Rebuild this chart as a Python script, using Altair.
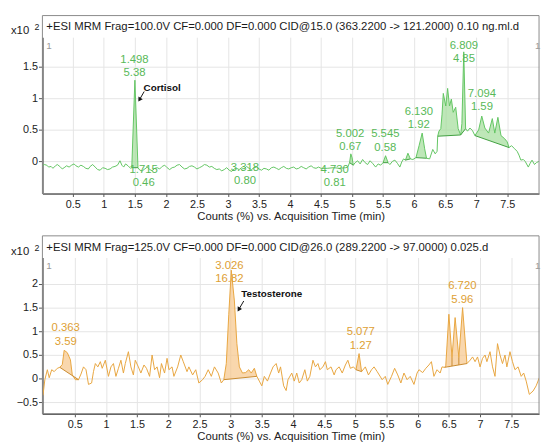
import altair as alt
import pandas as pd

# ---------------- data: top chromatogram (cortisol channel), x10^2 counts ----------------
T1 = [0.01, 0.04, 0.08, 0.11, 0.15, 0.18, 0.22, 0.25, 0.29, 0.33, 0.36, 0.40, 0.44, 0.48, 0.52, 0.55,
      0.59, 0.63, 0.67, 0.71, 0.75, 0.78, 0.82, 0.86, 0.90, 0.94, 0.98, 1.02, 1.06, 1.10, 1.14, 1.18,
      1.22, 1.26, 1.29, 1.32, 1.35, 1.39, 1.43, 1.45, 1.50, 1.55, 1.58, 1.62, 1.66, 1.70, 1.74, 1.78,
      1.82, 1.86, 1.90, 1.94, 1.98, 2.02, 2.06, 2.10, 2.14, 2.18, 2.22, 2.26, 2.30, 2.34, 2.38, 2.42,
      2.46, 2.50, 2.54, 2.58, 2.62, 2.66, 2.70, 2.74, 2.78, 2.82, 2.86, 2.90, 2.94, 2.98, 3.02, 3.06,
      3.10, 3.14, 3.18, 3.22, 3.26, 3.30, 3.34, 3.38, 3.42, 3.46, 3.50, 3.54, 3.58, 3.62, 3.66, 3.70,
      3.74, 3.78, 3.82, 3.86, 3.90, 3.94, 3.98, 4.02, 4.06, 4.10, 4.14, 4.18, 4.22, 4.26, 4.30, 4.34,
      4.38, 4.42, 4.46, 4.50, 4.60, 4.70, 4.80, 4.90, 4.93, 4.96, 4.98, 5.00, 5.02, 5.05, 5.09, 5.13,
      5.17, 5.21, 5.25, 5.29, 5.33, 5.38, 5.42, 5.46, 5.50, 5.54, 5.58, 5.61, 5.65, 5.69, 5.73, 5.77,
      5.80, 5.83, 5.86, 5.90, 5.94, 5.98, 6.03, 6.08, 6.13, 6.17, 6.20, 6.25, 6.30, 6.34, 6.37, 6.38,
      6.40, 6.43, 6.45, 6.47, 6.51, 6.54, 6.57, 6.60, 6.63, 6.67, 6.71, 6.75, 6.77, 6.80, 6.83, 6.86,
      6.90, 6.94, 6.98, 7.04, 7.09, 7.14, 7.20, 7.26, 7.30, 7.35, 7.40, 7.46, 7.50, 7.53, 7.57, 7.62,
      7.66, 7.69, 7.72, 7.76, 7.79, 7.84, 7.87, 7.90, 7.94, 7.97, 8.01]
V1 = [-0.07, -0.05, -0.06, -0.09, -0.08, -0.11, -0.07, -0.05, -0.08, -0.12, -0.10, -0.07, -0.09, -0.06, -0.04, -0.07,
      -0.09, -0.06, -0.08, -0.11, -0.12, -0.08, -0.05, -0.09, -0.13, -0.14, -0.10, -0.11, -0.13, -0.12, -0.09, -0.08,
      -0.06, 0.01, -0.06, -0.09, -0.04, -0.07, -0.11, -0.10, 1.29, -0.10, -0.14, -0.15, -0.12, -0.09, -0.13, -0.15,
      -0.11, -0.10, -0.12, -0.08, -0.06, -0.10, -0.13, -0.10, -0.09, -0.06, -0.05, -0.09, -0.12, -0.11, -0.08, -0.07,
      -0.09, -0.12, -0.10, -0.08, -0.05, -0.06, -0.09, -0.08, -0.11, -0.13, -0.12, -0.15, -0.13, -0.10, -0.14, -0.16,
      -0.12, -0.11, -0.13, -0.10, -0.12, -0.08, -0.11, -0.13, -0.10, -0.09, -0.12, -0.14, -0.11, -0.12, -0.14, -0.10,
      -0.09, -0.11, -0.13, -0.10, -0.08, -0.11, -0.12, -0.10, -0.09, -0.12, -0.11, -0.08, -0.10, -0.12, -0.09, -0.07,
      -0.10, -0.11, -0.09, -0.11, -0.11, -0.10, -0.11, -0.10, -0.09, -0.02, 0.12, 0.06, -0.06, -0.02, 0.01, -0.04,
      0.03, -0.02, -0.05, 0.01, -0.03, -0.09, -0.04, -0.06, -0.02, 0.09, -0.02, -0.05, 0.00, 0.02, -0.03, -0.09,
      -0.01, 0.04, 0.02, 0.13, 0.04, 0.03, 0.06, 0.25, 0.45, 0.20, 0.05, 0.04, 0.19, 0.12, 0.16, 0.40,
      0.48, 0.52, 0.75, 1.08, 0.88, 1.16, 0.88, 0.99, 0.78, 0.86, 0.52, 0.42, 0.60, 1.74, 0.52, 0.48,
      0.53, 0.49, 0.41, 0.50, 0.72, 0.53, 0.45, 0.68, 0.45, 0.70, 0.41, 0.36, 0.31, 0.22, 0.25, 0.20,
      0.16, 0.10, 0.02, 0.03, 0.00, -0.09, -0.03, 0.02, -0.05, -0.02, 0.00]
PEAK1_ID = ["c1", "c2", "c3", "c4", "c5", "c6", "c7", "c8"]
PEAK1_START = [1.45, 4.96, 5.50, 5.86, 6.03, 6.38, 6.75, 6.98]
PEAK1_END = [1.55, 5.02, 5.58, 5.94, 6.20, 6.75, 6.83, 7.53]
LAB1_RT = ["1.498", "1.715", "3.318", "4.730", "5.002", "5.545", "6.130", "6.809", "7.094"]
LAB1_AREA = ["5.38", "0.46", "0.80", "0.81", "0.67", "0.58", "1.92", "4.85", "1.59"]
LAB1_T = [1.494, 1.642, 3.274, 4.721, 4.970, 5.536, 6.076, 6.803, 7.093]
LAB1_V = [1.61, -0.136, -0.105, -0.136, 0.44, 0.43, 0.79, 1.84, 1.07]
NAME1 = "Cortisol"
NAME1_T, NAME1_V = 1.94, 1.16
ARROW1 = [1.65, 1.11, 1.574, 0.98]
TITLE1 = "+ESI MRM Frag=100.0V CF=0.000 DF=0.000 CID@15.0 (363.2200 -> 121.2000) 0.10 ng.ml.d"

# ---------------- data: bottom chromatogram (testosterone channel) ----------------
T2 = [-0.01, 0.02, 0.06, 0.09, 0.13, 0.17, 0.22, 0.26, 0.30, 0.33, 0.38, 0.43, 0.46, 0.51, 0.56, 0.60,
      0.64, 0.68, 0.72, 0.77, 0.80, 0.83, 0.87, 0.91, 0.94, 0.99, 1.04, 1.08, 1.12, 1.16, 1.20, 1.24,
      1.28, 1.31, 1.36, 1.40, 1.44, 1.47, 1.52, 1.56, 1.61, 1.65, 1.70, 1.74, 1.78, 1.82, 1.86, 1.89,
      1.94, 1.98, 2.01, 2.06, 2.09, 2.15, 2.20, 2.24, 2.30, 2.33, 2.39, 2.44, 2.49, 2.55, 2.59, 2.64,
      2.69, 2.74, 2.80, 2.85, 2.89, 2.93, 2.97, 3.01, 3.06, 3.10, 3.14, 3.19, 3.24, 3.29, 3.33, 3.38,
      3.42, 3.46, 3.50, 3.54, 3.59, 3.64, 3.68, 3.73, 3.77, 3.80, 3.85, 3.89, 3.92, 3.98, 4.02, 4.06,
      4.10, 4.14, 4.19, 4.23, 4.27, 4.32, 4.36, 4.40, 4.43, 4.48, 4.52, 4.55, 4.61, 4.66, 4.69, 4.74,
      4.79, 4.84, 4.88, 4.92, 4.97, 5.01, 5.06, 5.10, 5.16, 5.21, 5.26, 5.30, 5.35, 5.43, 5.48, 5.52,
      5.58, 5.63, 5.68, 5.73, 5.78, 5.83, 5.88, 5.94, 5.99, 6.02, 6.08, 6.13, 6.18, 6.22, 6.26, 6.31,
      6.36, 6.39, 6.43, 6.45, 6.50, 6.55, 6.60, 6.66, 6.72, 6.79, 6.84, 6.88, 6.92, 6.96, 7.00, 7.04,
      7.08, 7.11, 7.16, 7.20, 7.24, 7.28, 7.32, 7.36, 7.40, 7.43, 7.48, 7.52, 7.56, 7.61, 7.66, 7.70,
      7.74, 7.79, 7.85, 7.90, 7.95]
V2 = [-0.35, -0.02, 0.19, 0.02, 0.19, 0.15, 0.22, 0.24, 0.30, 0.60, 0.55, 0.40, 0.08, -0.02, -0.02, 0.10,
      0.25, 0.19, -0.12, -0.09, 0.15, 0.32, 0.25, 0.36, 0.22, 0.39, 0.05, 0.25, 0.32, 0.05, 0.22, 0.39,
      0.12, 0.32, 0.57, 0.25, 0.08, 0.39, 0.25, 0.12, 0.29, 0.22, 0.05, 0.50, 0.19, 0.25, 0.02, 0.32,
      0.12, 0.43, 0.19, 0.25, 0.05, 0.25, 0.50, 0.36, 0.15, 0.25, 0.08, 0.19, -0.09, -0.02, 0.05, 0.19,
      0.05, 0.25, 0.12, -0.09, -0.02, 0.32, 1.36, 2.29, 1.64, 0.74, 0.25, 0.12, 0.13, 0.19, 0.12, 0.22,
      0.05, -0.05, -0.15, 0.05, -0.05, 0.12, 0.25, 0.32, 0.12, 0.25, -0.15, -0.25, -0.02, 0.12, -0.05, 0.12,
      -0.09, -0.02, 0.19, -0.05, 0.05, 0.39, 0.25, 0.32, 0.19, 0.25, 0.36, 0.19, 0.25, 0.08, 0.19, 0.25,
      0.12, 0.29, 0.39, 0.22, 0.25, 0.19, 0.53, 0.15, 0.25, 0.08, 0.19, 0.25, 0.15, -0.02, 0.05, -0.12,
      0.05, 0.22, 0.08, -0.09, 0.12, -0.02, 0.05, -0.12, 0.12, 0.19, 0.13, 0.22, 0.29, 0.36, 0.05, 0.19,
      0.12, 0.25, 0.24, 0.27, 1.36, 0.45, 1.29, 0.45, 1.50, 0.32, 0.39, 0.46, 0.36, 0.46, 0.25, 0.43,
      0.50, 0.36, 0.57, 0.25, 0.05, 0.74, 0.50, 0.32, 0.50, 0.25, 0.57, 0.36, 0.19, 0.25, 0.05, 0.12,
      -0.05, -0.33, -0.26, -0.15, 0.02]
PEAK2_ID = ["t1", "t2", "t3", "t4"]
PEAK2_START = [0.26, 2.89, 5.01, 6.43]
PEAK2_END = [0.56, 3.42, 5.10, 6.79]
DROP2_T = [6.55, 6.66]
DROP2_PEAK = ["t4", "t4"]
LAB2_RT = ["0.363", "3.026", "5.077", "6.720"]
LAB2_AREA = ["3.59", "16.82", "1.27", "5.96"]
LAB2_T = [0.355, 2.98, 5.087, 6.716]
LAB2_V = [1.06, 2.38, 0.98, 1.95]
NAME2 = "Testosterone"
NAME2_T, NAME2_V = 3.66, 1.78
ARROW2 = [3.21, 1.64, 3.13, 1.46]
TITLE2 = "+ESI MRM Frag=125.0V CF=0.000 DF=0.000 CID@26.0 (289.2200 -> 97.0000) 0.025.d"

X_TICKS = [0.5, 1, 1.5, 2, 2.5, 3, 3.5, 4, 4.5, 5, 5.5, 6, 6.5, 7, 7.5]
Y1_TICKS = [0, 0.5, 1, 1.5]
Y2_TICKS = [-0.5, 0, 0.5, 1, 1.5, 2]

W, H = 505, 159
FONT = "Liberation Sans"


def panel(T, V, pid, pstart, pend, drops_t, drops_p, lab_rt, lab_area, lab_t, lab_v,
          name, name_t, name_v, arrow, title, xdom, ydom, yticks,
          line_col, fill_col, base_col, lab_col):
    trace = pd.DataFrame({"t": T, "v": V})
    peaks = []
    fill_layers = []
    for p, s, e in zip(pid, pstart, pend):
        seg = trace[(trace.t >= s - 1e-9) & (trace.t <= e + 1e-9)]
        x0, y0 = float(seg.t.iloc[0]), float(seg.v.iloc[0])
        x1, y1 = float(seg.t.iloc[-1]), float(seg.v.iloc[-1])
        peaks.append({"pid": p, "t": x0, "v": y0, "t2": x1, "v2": y1})
        seg_df = pd.DataFrame({"t": list(seg.t), "v": list(seg.v),
                               "x0": x0, "y0": y0, "x1": x1, "y1": y1})
        fill_layers.append(seg_df)
    peaks_df = pd.DataFrame(peaks)
    drops = []
    for dt, dp in zip(drops_t, drops_p):
        pk = [q for q in peaks if q["pid"] == dp][0]
        vv = float(trace[abs(trace.t - dt) < 1e-9].v.iloc[0])
        drops.append({"t": dt, "v": vv, "x0": pk["t"], "y0": pk["v"], "x1": pk["t2"], "y1": pk["v2"]})
    labels = pd.DataFrame({"t": lab_t, "v": lab_v, "rt": lab_rt, "area": lab_area})
    ann = pd.DataFrame({"t": [name_t], "v": [name_v], "name": [name]})
    arr = pd.DataFrame({"t": [arrow[0]], "v": [arrow[1]], "t2": [arrow[2]], "v2": [arrow[3]]})
    one = pd.DataFrame({"k": [0]})

    xs = alt.Scale(domain=xdom, nice=False, zero=False)
    ys = alt.Scale(domain=ydom, nice=False, zero=False)
    xax = alt.Axis(values=X_TICKS, format="~g", title="Counts (%) vs. Acquisition Time (min)",
                   grid=True, tickSize=3, labelPadding=2, titlePadding=1, labelOverlap=False,
                   labelFlush=False, labelBound=False)
    yax = alt.Axis(values=yticks, format="~g", title=None, grid=True, tickSize=4, labelPadding=1,
                   labelOverlap=False, labelFlush=False, labelBound=False)
    X = alt.X("t:Q", scale=xs, axis=xax)
    Y = alt.Y("v:Q", scale=ys, axis=yax)
    base_expr = "datum.y0 + (datum.t - datum.x0) * (datum.y1 - datum.y0) / (datum.x1 - datum.x0)"

    areas = [alt.Chart(d).transform_calculate(base=base_expr).mark_area(
        color=fill_col, fillOpacity=0.7, clip=True).encode(x=X, y=Y, y2="base:Q")
        for d in fill_layers]
    line = alt.Chart(trace).mark_line(color=line_col, strokeWidth=1, clip=True).encode(
        x=X, y=Y, order="t:Q")
    basel = alt.Chart(peaks_df).mark_rule(color=base_col, strokeWidth=1).encode(
        x=X, y=Y, x2="t2:Q", y2="v2:Q")
    layers = areas + [line, basel]
    if drops:
        drops_df = pd.DataFrame(drops)
        layers.append(alt.Chart(drops_df).transform_calculate(base=base_expr).mark_rule(
            color=base_col, strokeWidth=1).encode(x=X, y=Y, y2="base:Q"))
    lab1 = alt.Chart(labels).mark_text(font=FONT, fontSize=11.5, color=lab_col, baseline="middle").encode(
        x=X, y=Y, text="rt:N")
    lab2 = alt.Chart(labels).mark_text(font=FONT, fontSize=11.5, color=lab_col, baseline="middle",
                                       dy=13.5).encode(x=X, y=Y, text="area:N")
    annt = alt.Chart(ann).mark_text(font=FONT, fontSize=10, fontWeight="bold", color="#111",
                                    baseline="middle").encode(x=X, y=Y, text="name:N")
    arrl = alt.Chart(arr).mark_rule(color="#111", strokeWidth=1).encode(
        x=X, y=Y, x2="t2:Q", y2="v2:Q")
    arrh = alt.Chart(arr).mark_point(shape="triangle-down", filled=True, size=26, angle=31,
                                     color="#111", opacity=1).encode(
        x=alt.X("t2:Q", scale=xs, axis=xax), y=alt.Y("v2:Q", scale=ys, axis=yax))
    frame = alt.Chart(one).mark_rect(fillOpacity=0, stroke="#8a8a8a", strokeWidth=1).encode(
        x=alt.value(0), x2=alt.value(W), y=alt.value(-22), y2=alt.value(H))
    ttl = alt.Chart(one).mark_text(text=title, font=FONT, fontSize=11.5, color="#1a1a1a",
                                   align="left", baseline="middle").encode(x=alt.value(4), y=alt.value(-10))
    x10 = alt.Chart(one).mark_text(text="x10", font=FONT, fontSize=11.5, color="#1a1a1a",
                                   align="left", baseline="middle").encode(x=alt.value(-32), y=alt.value(-6))
    sup = alt.Chart(one).mark_text(text="2", font=FONT, fontSize=9, color="#1a1a1a",
                                   align="left", baseline="middle").encode(x=alt.value(-8), y=alt.value(-10))
    oneL = alt.Chart(one).mark_text(text="1", font=FONT, fontSize=10, color="#9a9a9a",
                                    align="left", baseline="middle").encode(x=alt.value(4), y=alt.value(9))
    oneR = alt.Chart(one).mark_text(text="1", font=FONT, fontSize=10, color="#9a9a9a",
                                    align="left", baseline="middle").encode(x=alt.value(W - 4), y=alt.value(9))
    layers += [lab1, lab2, annt, arrl, arrh, frame, ttl, x10, sup, oneL, oneR]
    return alt.layer(*layers).properties(width=W, height=H)


top = panel(T1, V1, PEAK1_ID, PEAK1_START, PEAK1_END, [], [], LAB1_RT, LAB1_AREA, LAB1_T, LAB1_V,
            NAME1, NAME1_T, NAME1_V, ARROW1, TITLE1, [0.01, 8.013], [-0.511, 1.973], Y1_TICKS,
            "#62c562", "#a3dd9a", "#3f9f3f", "#58b958")
bottom = panel(T2, V2, PEAK2_ID, PEAK2_START, PEAK2_END, DROP2_T, DROP2_PEAK, LAB2_RT, LAB2_AREA,
               LAB2_T, LAB2_V, NAME2, NAME2_T, NAME2_V, ARROW2, TITLE2, [-0.019, 7.946], [-0.741, 2.558],
               Y2_TICKS, "#e8a53f", "#f6c68a", "#c98a2e", "#dea033")

chart = alt.vconcat(top, bottom, spacing=13).properties(
    padding={"left": 3, "top": 3, "right": 0, "bottom": 0}, background="white"
).configure_view(stroke=None).configure_axis(
    labelFont=FONT, labelFontSize=11, labelColor="#222", titleFont=FONT, titleFontSize=11.5,
    titleFontWeight="normal", titleColor="#222", gridColor="#e4e4e4", gridWidth=1,
    domainColor="#555", domainWidth=1.5, tickColor="#555", tickWidth=1, labelOverlap=False
)

chart.save("out.html", embed_options={"renderer": "svg", "actions": False})
